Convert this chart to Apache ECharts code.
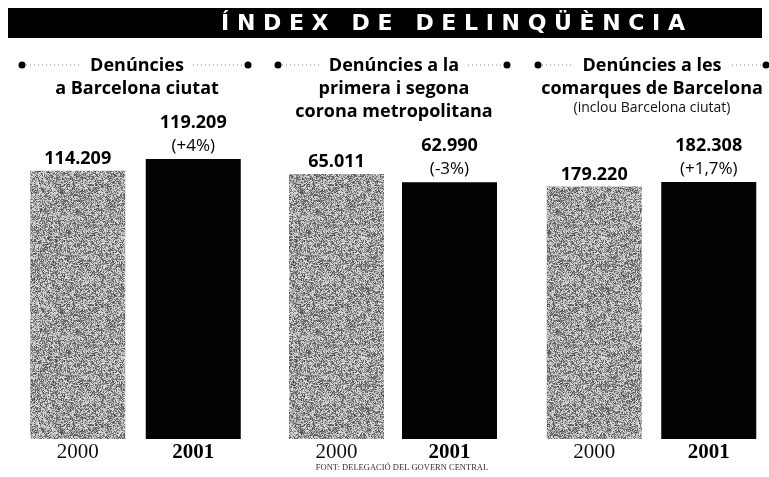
<!DOCTYPE html>
<html>
<head>
<meta charset="utf-8">
<script src="https://cdn.jsdelivr.net/npm/echarts@6/dist/echarts.min.js"></script>
<style>
  html, body { margin: 0; padding: 0; background: #fff; }
  #chart { width: 769px; height: 477px; }
</style>
</head>
<body>
<div id="chart"></div>
<script>
// Crime reports per area, 2000 vs 2001
const years = ['2000', '2001'];
const panelTitles = [
  'Denúncies\na Barcelona ciutat',
  'Denúncies a la\nprimera i segona\ncorona metropolitana',
  'Denúncies a les\ncomarques de Barcelona'
];
const panelNotes = ['', '', '(inclou Barcelona ciutat)'];
const values2000 = [114209, 65011, 179220];
const values2001 = [119209, 62990, 182308];
const changes = ['(+4%)', '(-3%)', '(+1,7%)'];
const axisMax = [144300, 83200, 240500];
const sourceText = 'Font: Delegació del Govern Central';

// layout of the three panels
const panels = [
  { left: 20, width: 231, cx: 137, dotL: 22, dotR: 248, txtL: 84, txtR: 190 },
  { left: 280, width: 226, cx: 394, dotL: 278, dotR: 507, txtL: 323, txtR: 465 },
  { left: 537, width: 229, cx: 652, dotL: 538, dotR: 766, txtL: 576, txtR: 729 }
];
const gridTop = 100, gridBottom = 38;

// stippled grey fill for the 2000 bars (deterministic halftone grain)
function grainPattern() {
  const size = 120;
  const c = document.createElement('canvas');
  c.width = c.height = size;
  const ctx = c.getContext('2d');
  const img = ctx.createImageData(size, size);
  function hash(x, y, k) {
    let h = (x * 374761393 + y * 668265263 + k * 2147483647) | 0;
    h = (h ^ (h >>> 13)) * 1274126177 | 0;
    h = h ^ (h >>> 16);
    return (h >>> 0) / 4294967296;
  }
  for (let y = 0; y < size; y++) {
    for (let x = 0; x < size; x++) {
      const blob = hash(Math.floor(x / 5), Math.floor(y / 4), 7);
      const p = 0.32 + blob * 0.3 + ((x + y) % 2 ? 0.06 : -0.06);
      const dark = hash(x, y, 3) < p;
      const v = dark ? 70 + hash(x, y, 5) * 70 : 165 + hash(x, y, 9) * 65;
      const i = (y * size + x) * 4;
      img.data[i] = img.data[i + 1] = img.data[i + 2] = v;
      img.data[i + 3] = 255;
    }
  }
  ctx.putImageData(img, 0, 0);
  return c;
}
const grain = { image: grainPattern(), repeat: 'repeat' };

function fmt(v) {
  return String(v).replace(/\B(?=(\d{3})+(?!\d))/g, '.');
}

const sans = '"Open Sans", "Noto Sans", sans-serif';
const serif = '"Liberation Serif", "DejaVu Serif", serif';

const grids = [], xAxes = [], yAxes = [], series = [], titles = [], graphics = [];

panels.forEach((p, k) => {
  grids.push({ left: p.left, width: p.width, top: gridTop, bottom: gridBottom });
  xAxes.push({
    type: 'category', gridIndex: k, data: years,
    axisLine: { show: false }, axisTick: { show: false },
    axisLabel: {
      margin: 3,
      formatter: (v) => v === '2001' ? '{b|' + v + '}' : '{n|' + v + '}',
      rich: {
        n: { fontFamily: serif, fontSize: 21, color: '#111' },
        b: { fontFamily: serif, fontSize: 21, fontWeight: 'bold', color: '#000' }
      }
    }
  });
  yAxes.push({ type: 'value', gridIndex: k, min: 0, max: axisMax[k], show: false, splitLine: { show: false } });
  series.push({
    type: 'bar', xAxisIndex: k, yAxisIndex: k, barWidth: 95,
    data: [
      {
        value: values2000[k],
        itemStyle: { color: grain },
        label: {
          show: true, position: 'top', distance: 3,
          formatter: (d) => fmt(d.value),
          fontFamily: sans, fontSize: 18, fontWeight: 'bold', color: '#000'
        }
      },
      {
        value: values2001[k],
        itemStyle: { color: '#030303' },
        label: {
          show: true, position: 'top', distance: 3,
          formatter: (d) => '{v|' + fmt(d.value) + '}\n{c|' + changes[k] + '}',
          rich: {
            v: { fontFamily: sans, fontSize: 18, fontWeight: 'bold', color: '#000', lineHeight: 26 },
            c: { fontFamily: sans, fontSize: 17, color: '#000', lineHeight: 20 }
          }
        }
      }
    ],
    silent: true, animation: false
  });
  const note = panelNotes[k] ? '\n{s|' + panelNotes[k] + '}' : '';
  titles.push({
    text: panelTitles[k].split('\n').map(t => '{h|' + t + '}').join('\n') + note,
    left: p.cx, top: 54, padding: 0, textAlign: 'center',
    textStyle: {
      rich: {
        h: { fontFamily: sans, fontSize: 18, fontWeight: 'bold', color: '#000', lineHeight: 23 },
        s: { fontFamily: sans, fontSize: 14, fontWeight: 'normal', color: '#111', lineHeight: 17 }
      }
    }
  });
  // dotted leaders with end dots on the first title line
  const ly = 65;
  graphics.push(
    { type: 'line', shape: { x1: p.dotL + 4, y1: ly, x2: p.txtL - 3, y2: ly }, style: { stroke: '#888', lineWidth: 1, lineDash: [1, 3] } },
    { type: 'line', shape: { x1: p.txtR + 3, y1: ly, x2: p.dotR - 4, y2: ly }, style: { stroke: '#888', lineWidth: 1, lineDash: [1, 3] } },
    { type: 'circle', shape: { cx: p.dotL, cy: ly, r: 3.5 }, style: { fill: '#000' } },
    { type: 'circle', shape: { cx: p.dotR, cy: ly, r: 3.5 }, style: { fill: '#000' } }
  );
});

// heading band
graphics.push(
  { type: 'rect', shape: { x: 8, y: 8, width: 754, height: 30 }, style: { fill: '#000' } },
  {
    type: 'text', x: 453, y: 24,
    style: {
      text: 'Í N D E X   D E   D E L I N Q Ü È N C I A',
      fill: '#fff', font: 'bold 22px "DejaVu Sans", sans-serif',
      textAlign: 'center', textVerticalAlign: 'middle'
    }
  },
  {
    type: 'text', x: 402, y: 468,
    style: {
      text: sourceText.toUpperCase(),
      fill: '#333', font: '8.5px "Liberation Serif", serif',
      textAlign: 'center', textVerticalAlign: 'middle'
    }
  }
);

const chart = echarts.init(document.getElementById('chart'), null, { renderer: 'canvas' });
chart.setOption({
  backgroundColor: '#fff',
  animation: false,
  title: titles,
  grid: grids,
  xAxis: xAxes,
  yAxis: yAxes,
  series: series,
  graphic: graphics
});
</script>
</body>
</html>
